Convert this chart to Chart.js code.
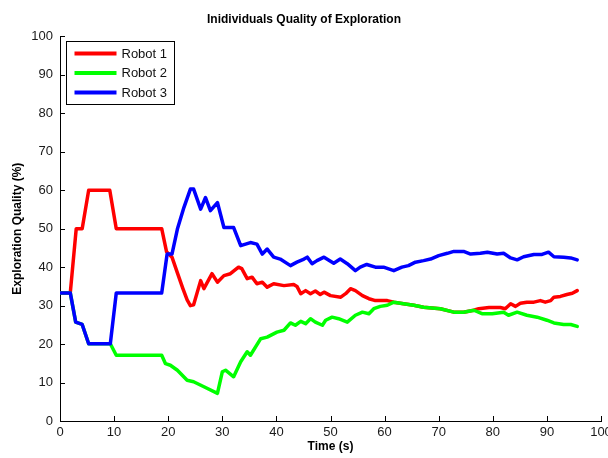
<!DOCTYPE html>
<html>
<head>
<meta charset="utf-8">
<script src="https://cdn.jsdelivr.net/npm/chart.js@4/dist/chart.umd.min.js"></script>
<style>
  html, body { margin: 0; padding: 0; background: #fff; }
  #wrap { width: 608px; height: 458px; }
</style>
</head>
<body>
<div id="wrap"><canvas id="qualityChart" width="608" height="458"></canvas></div>
<script>
// exploration quality per robot over time (s -> %)
const robot1Time = [0, 1.9, 3.0, 4.1, 5.3, 9.2, 10.4, 18.8, 19.7, 20.7, 21.7, 22.7, 23.5, 24.1, 24.7, 26.0, 26.6, 28.1, 29.1, 30.3, 31.5, 33.0, 33.6, 34.6, 35.5, 36.4, 37.4, 38.3, 39.5, 41.4, 43.2, 43.8, 44.5, 45.4, 46.3, 47.2, 48.1, 48.8, 50.0, 51.9, 52.8, 53.7, 54.6, 55.9, 57.1, 58.3, 60.5, 61.7, 63.5, 65.4, 67.2, 70.3, 72.8, 74.6, 76.5, 77.4, 79.3, 81.4, 82.3, 83.3, 84.2, 85.1, 86.3, 87.6, 88.8, 89.7, 90.7, 91.3, 92.5, 93.7, 94.7, 95.6];
const robot1Quality = [33.3, 33.3, 50, 50, 60, 60, 50, 50, 44, 42.6, 38.5, 34.5, 31.5, 30, 30.2, 36.5, 34.4, 38.3, 36.1, 37.8, 38.3, 40, 39.6, 37, 37.4, 35.7, 36.1, 34.8, 35.7, 35.2, 35.5, 35.0, 33.1, 33.9, 33.1, 33.8, 32.9, 33.5, 32.6, 32.2, 33.1, 34.4, 33.9, 32.6, 31.8, 31.3, 31.3, 30.9, 30.5, 30.1, 29.6, 29.2, 28.3, 28.3, 28.8, 29.2, 29.5, 29.5, 29.2, 30.5, 29.8, 30.6, 30.9, 30.9, 31.3, 30.9, 31.3, 32.2, 32.4, 32.9, 33.2, 33.9];

const robot2Time = [0, 1.9, 2.9, 4.1, 5.3, 9.3, 10.4, 18.8, 19.5, 20.4, 21.7, 23.5, 24.7, 26.6, 29.1, 30.0, 30.6, 32.1, 33.4, 34.6, 35.2, 37.1, 38.3, 40.1, 41.4, 42.6, 43.5, 44.5, 45.4, 46.3, 47.2, 48.5, 49.1, 50.3, 51.5, 53.1, 54.6, 55.9, 57.1, 58.0, 59.2, 60.5, 61.7, 63.5, 65.4, 67.2, 70.3, 72.8, 74.6, 76.5, 78.0, 79.9, 82.0, 82.9, 84.5, 86.3, 88.2, 90.0, 91.3, 93.1, 94.4, 95.6];
const robot2Quality = [33.3, 33.3, 25.7, 25.1, 20.1, 20.1, 17.1, 17.1, 14.9, 14.5, 13.2, 10.6, 10.2, 8.9, 7.2, 12.8, 13.2, 11.5, 15.4, 18.0, 17.1, 21.4, 21.8, 23.1, 23.6, 25.5, 24.9, 25.9, 25.3, 26.6, 25.7, 24.9, 26.2, 27.0, 26.6, 25.7, 27.5, 28.3, 27.9, 29.2, 29.8, 30.1, 30.9, 30.5, 30.1, 29.6, 29.2, 28.3, 28.3, 28.8, 27.9, 27.9, 28.3, 27.5, 28.3, 27.5, 27.0, 26.2, 25.5, 25.1, 25.1, 24.6];

const robot3Time = [0, 1.9, 2.9, 4.1, 5.3, 9.3, 10.4, 18.8, 19.8, 20.7, 21.7, 22.9, 24.1, 24.7, 26.0, 26.9, 27.8, 29.1, 30.3, 32.1, 33.4, 35.2, 36.4, 37.4, 38.3, 39.5, 40.7, 42.6, 43.8, 45.1, 45.7, 46.6, 47.5, 48.8, 50.6, 51.8, 53.1, 54.6, 55.5, 56.7, 58.3, 59.8, 61.7, 63.2, 64.4, 65.7, 67.2, 68.5, 70.0, 71.6, 72.8, 74.6, 75.9, 77.7, 79.0, 80.8, 82.0, 83.3, 84.5, 85.7, 87.6, 89.1, 90.3, 91.3, 93.1, 94.4, 95.6];
const robot3Quality = [33.3, 33.3, 25.7, 25.1, 20.1, 20.1, 33.3, 33.3, 43.4, 43.4, 49.9, 55.5, 60.3, 60.3, 55.1, 58.1, 54.7, 56.8, 50.3, 50.3, 45.6, 46.4, 46.0, 43.4, 44.7, 42.6, 42.1, 40.4, 41.3, 42.1, 42.6, 40.9, 41.7, 42.6, 41.0, 42.1, 40.9, 39.1, 40.0, 40.7, 40.0, 40.0, 39.1, 40.0, 40.4, 41.3, 41.7, 42.1, 43.0, 43.6, 44.1, 44.1, 43.4, 43.6, 43.9, 43.4, 43.6, 42.4, 41.9, 42.7, 43.3, 43.3, 43.9, 42.7, 42.6, 42.4, 41.9];

const seriesNames = ['Robot 1', 'Robot 2', 'Robot 3'];
const seriesColors = ['#ff0000', '#00ff00', '#0000ff'];
const xTicks = [0, 10, 20, 30, 40, 50, 60, 70, 80, 90, 100];
const yTicks = [0, 10, 20, 30, 40, 50, 60, 70, 80, 90, 100];

const toPoints = (t, v) => t.map((x, i) => ({ x: x, y: v[i] }));

// small tick marks pointing into the plot
const innerTicks = {
    id: 'innerTicks',
    afterDraw(chart) {
        const { ctx, chartArea, scales } = chart;
        ctx.save();
        ctx.strokeStyle = '#000';
        ctx.lineWidth = 1;
        ctx.beginPath();
        xTicks.forEach(v => {
            const px = Math.round(scales.x.getPixelForValue(v)) + 0.5;
            ctx.moveTo(px, chartArea.bottom);
            ctx.lineTo(px, chartArea.bottom - 5);
        });
        yTicks.forEach(v => {
            const py = Math.round(scales.y.getPixelForValue(v)) + 0.5;
            ctx.moveTo(chartArea.left, py);
            ctx.lineTo(chartArea.left + 5, py);
        });
        ctx.stroke();
        ctx.restore();
    }
};

// boxed legend in the upper left corner of the axes
const boxLegend = {
    id: 'boxLegend',
    afterDraw(chart) {
        const { ctx, chartArea } = chart;
        const x0 = Math.round(chartArea.left) + 6.5;
        const y0 = Math.round(chartArea.top) + 5.5;
        const w = 108, h = 63;
        ctx.save();
        ctx.fillStyle = '#fff';
        ctx.fillRect(x0, y0, w, h);
        ctx.strokeStyle = '#000';
        ctx.lineWidth = 1;
        ctx.strokeRect(x0, y0, w, h);
        ctx.font = '13px "Liberation Sans", Arial, sans-serif';
        ctx.textBaseline = 'middle';
        chart.data.datasets.forEach((ds, i) => {
            const y = y0 + 12 + i * 19.5;
            ctx.strokeStyle = ds.borderColor;
            ctx.lineWidth = 4;
            ctx.beginPath();
            ctx.moveTo(x0 + 8, y);
            ctx.lineTo(x0 + 50, y);
            ctx.stroke();
            ctx.fillStyle = '#111';
            ctx.fillText(ds.label, x0 + 55, y + 0.5);
        });
        ctx.restore();
    }
};

const ctx = document.getElementById('qualityChart');

new Chart(ctx, {
    type: 'line',
    data: {
        datasets: [
            { label: seriesNames[0], data: toPoints(robot1Time, robot1Quality), borderColor: seriesColors[0], order: 3 },
            { label: seriesNames[1], data: toPoints(robot2Time, robot2Quality), borderColor: seriesColors[1], order: 2 },
            { label: seriesNames[2], data: toPoints(robot3Time, robot3Quality), borderColor: seriesColors[2], order: 1 }
        ]
    },
    options: {
        responsive: false,
        animation: false,
        layout: { padding: 0 },
        elements: {
            line: { borderWidth: 3.5, tension: 0, fill: false, borderJoinStyle: 'round', borderCapStyle: 'round' },
            point: { radius: 0, hoverRadius: 0 }
        },
        plugins: {
            legend: { display: false },
            tooltip: { enabled: false },
            title: {
                display: true,
                text: 'Inidividuals Quality of Exploration',
                color: '#000',
                font: { family: '"Liberation Sans", Arial, sans-serif', size: 12, weight: 'bold' },
                padding: { top: 12, bottom: 10 }
            }
        },
        scales: {
            x: {
                type: 'linear',
                min: 0,
                max: 100,
                afterBuildTicks: s => { s.ticks = xTicks.map(v => ({ value: v })); },
                afterFit: s => { s.height = 37; s.paddingRight = 7; },
                grid: { display: false, drawTicks: false },
                border: { display: true, color: '#000', width: 1 },
                ticks: {
                    padding: 4,
                    maxRotation: 0,
                    color: '#1a1a1a',
                    font: { family: '"Liberation Sans", Arial, sans-serif', size: 13 }
                },
                title: {
                    display: true,
                    text: 'Time (s)',
                    color: '#000',
                    font: { family: '"Liberation Sans", Arial, sans-serif', size: 12, weight: 'bold' },
                    padding: { top: 0, bottom: 4 }
                }
            },
            y: {
                min: 0,
                max: 100,
                afterBuildTicks: s => { s.ticks = yTicks.map(v => ({ value: v })); },
                afterFit: s => { s.width = 60; },
                grid: { display: false, drawTicks: false },
                border: { display: true, color: '#000', width: 1 },
                ticks: {
                    padding: 7,
                    color: '#1a1a1a',
                    font: { family: '"Liberation Sans", Arial, sans-serif', size: 13 }
                },
                title: {
                    display: true,
                    text: 'Exploration Quality (%)',
                    color: '#000',
                    font: { family: '"Liberation Sans", Arial, sans-serif', size: 12, weight: 'bold' },
                    padding: { top: 10, bottom: 0 }
                }
            }
        }
    },
    plugins: [innerTicks, boxLegend]
});
</script>
</body>
</html>
